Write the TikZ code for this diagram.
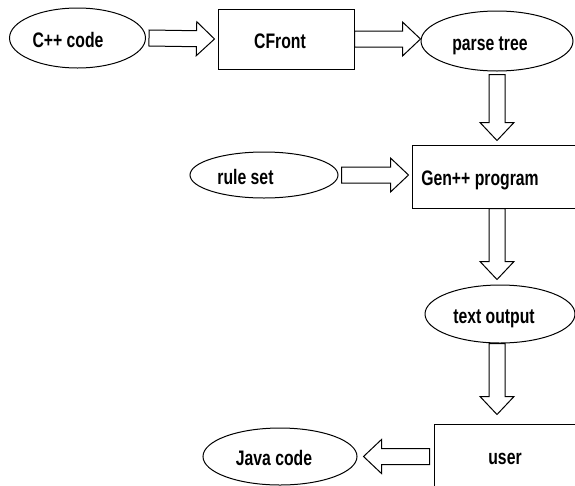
\documentclass[tikz,border=0pt]{standalone}
\usepackage{fontspec}
\setmainfont{Liberation Sans}[FakeStretch=0.75]
\usetikzlibrary{shapes.geometric,calc}
\begin{document}
\begin{tikzpicture}[x=1pt,y=-1pt]
\tikzstyle{lbl}=[font=\fontsize{21}{24}\selectfont\bfseries,text height=18pt,text depth=0pt,inner sep=0pt,draw=black,line width=1pt]
\tikzstyle{oval}=[lbl,ellipse]
\tikzstyle{block}=[lbl,rectangle]
\tikzstyle{blockarrow}=[draw=black,line width=1pt,fill=white,to path={
  ($(\tikztostart)!8pt!90:(\tikztotarget)$)
  -- ($(\tikztotarget)!18pt!(\tikztostart)!8pt!-90:(\tikztostart)$)
  -- ($(\tikztotarget)!18pt!(\tikztostart)!17pt!-90:(\tikztostart)$)
  -- (\tikztotarget)
  -- ($(\tikztotarget)!18pt!(\tikztostart)!17pt!90:(\tikztostart)$)
  -- ($(\tikztotarget)!18pt!(\tikztostart)!8pt!90:(\tikztostart)$)
  -- ($(\tikztostart)!8pt!-90:(\tikztotarget)$)
  -- cycle}]

\useasboundingbox (0,0) rectangle (575,485);
\clip (0,0) rectangle (575,485);

\node [oval,minimum width=136,minimum height=60] at (77.5,38) (cpp) {C++ code\hspace*{19pt}};
\node [block,minimum width=136,minimum height=60] at (286,39) (cfront) {CFront\hspace*{12pt}};
\node [oval,minimum width=152,minimum height=60] at (497,41) (ptree) {parse tree\hspace*{14pt}};

\node [oval,minimum width=148,minimum height=46] at (264,175) (rules) {rule set\hspace*{37pt}};
\node [block,minimum width=170,minimum height=63] at (497,176.5) (gen) {Gen++ program\hspace*{34pt}};

\node [oval,minimum width=150,minimum height=58] at (500,314) (tout) {text output\hspace*{12pt}};

\node [block,minimum width=142,minimum height=62] at (505,455) (user) {user};
\node [oval,minimum width=154,minimum height=57] at (280,456.5) (java) {Java code\hspace*{12pt}};

\path [blockarrow] ([xshift=3pt]cpp.east) edge ([xshift=-3pt]cfront.west);
\path [blockarrow] (cfront.east) edge (cfront.east -| ptree.west);
\path [blockarrow] ([yshift=-3pt]ptree.south) edge ([yshift=4pt]gen.north);
\path [blockarrow] ([xshift=3pt]rules.east) edge ([xshift=-3pt]rules.east -| gen.west);
\path [blockarrow] (gen.south) edge ([yshift=5pt]tout.north -| gen.south);
\path [blockarrow] (tout.south -| gen.south) edge ([yshift=9pt]user.north -| gen.south);
\path [blockarrow] ([xshift=-4pt]user.west |- java.east) edge ([xshift=6pt]java.east);
\end{tikzpicture}
\end{document}
